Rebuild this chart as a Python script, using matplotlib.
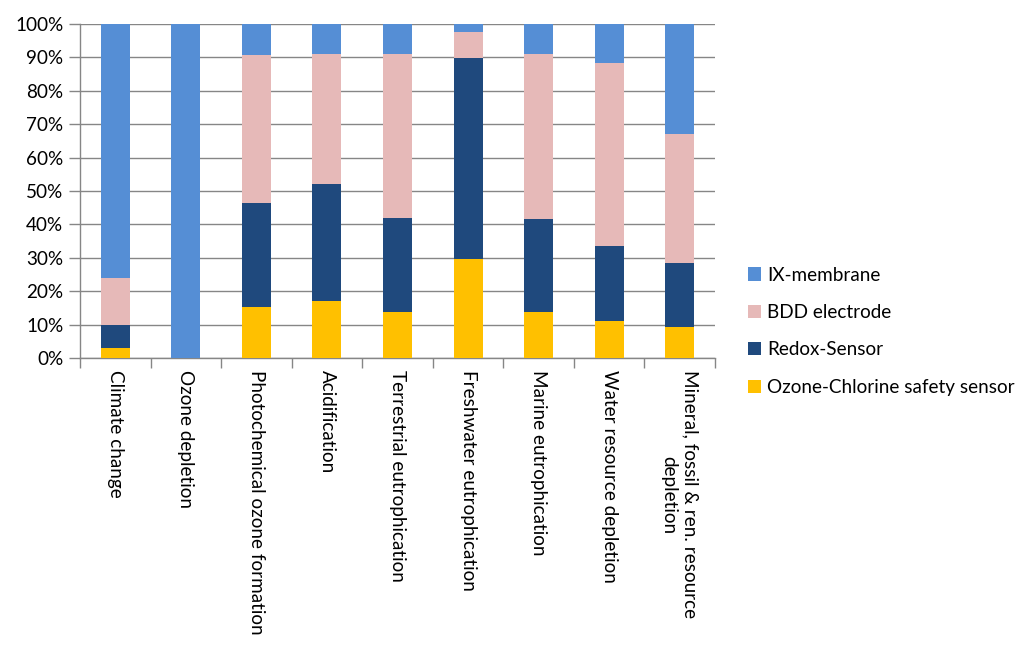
import matplotlib.pyplot as plt
import numpy as np

plt.rcParams['font.family'] = ['Lato', 'DejaVu Sans']

categories = ['Climate change', 'Ozone depletion', 'Photochemical ozone formation',
              'Acidification', 'Terrestrial eutrophication', 'Freshwater eutrophication',
              'Marine eutrophication', 'Water resource depletion',
              'Mineral, fossil & ren. resource\ndepletion']

# shares in percent, bottom to top
ozone_chlorine = [3.1, 0.0, 15.4, 17.1, 13.8, 29.7, 13.8, 11.1, 9.3]
redox_sensor = [6.8, 0.0, 31.1, 35.1, 28.1, 60.1, 27.8, 22.4, 19.1]
bdd_electrode = [14.2, 0.0, 44.2, 38.8, 49.1, 7.8, 49.4, 54.8, 38.7]
ix_membrane = [75.9, 100.0, 9.3, 9.0, 9.0, 2.4, 9.0, 11.7, 32.9]

series = [('Ozone-Chlorine safety sensor', ozone_chlorine, '#FFC000'),
          ('Redox-Sensor', redox_sensor, '#1F497D'),
          ('BDD electrode', bdd_electrode, '#E6B9B8'),
          ('IX-membrane', ix_membrane, '#558ED5')]

fs = 13.6
fig = plt.figure(figsize=(10.36, 6.58), dpi=100)
ax = fig.add_axes([80/1036, 300/658, 635/1036, 334/658])

x = np.arange(len(categories))
bottom = np.zeros(len(categories))
handles = []
for name, vals, col in series:
    vals = np.array(vals)
    b = ax.bar(x, vals, 0.41, bottom=bottom, color=col, label=name, zorder=3)
    handles.append(b)
    bottom += vals

gray = '#868686'
ax.set_xlim(-0.5, len(categories) - 0.5)
ax.set_ylim(0, 100)
ax.set_yticks(np.arange(0, 101, 10))
ax.set_yticklabels([f'{v}%' for v in range(0, 101, 10)], fontsize=fs)
ax.yaxis.grid(True, color=gray, linewidth=1, zorder=0)
ax.tick_params(axis='y', length=8, color=gray, width=1, pad=4)

ax.set_xticks(x)
ax.set_xticklabels(categories, rotation=270, ha='center', va='top',
                   multialignment='center', fontsize=fs, linespacing=1.3)
ax.set_xticks(np.arange(-0.5, len(categories)), minor=True)
ax.tick_params(axis='x', which='major', length=0, pad=9)
ax.tick_params(axis='x', which='minor', length=7, color=gray, width=1)

for s in ['top', 'right']:
    ax.spines[s].set_visible(False)
for s in ['left', 'bottom']:
    ax.spines[s].set_color(gray)
    ax.spines[s].set_linewidth(1)

ax.legend(handles[::-1], [h.get_label() for h in handles[::-1]],
          loc='upper left', bbox_to_anchor=(740/1036, (658 - 259)/658),
          bbox_transform=fig.transFigure, frameon=False, fontsize=fs,
          handlelength=0.7, handleheight=0.7, handletextpad=0.35,
          labelspacing=1.08, borderaxespad=0)

fig.savefig('out.png', dpi=100)
